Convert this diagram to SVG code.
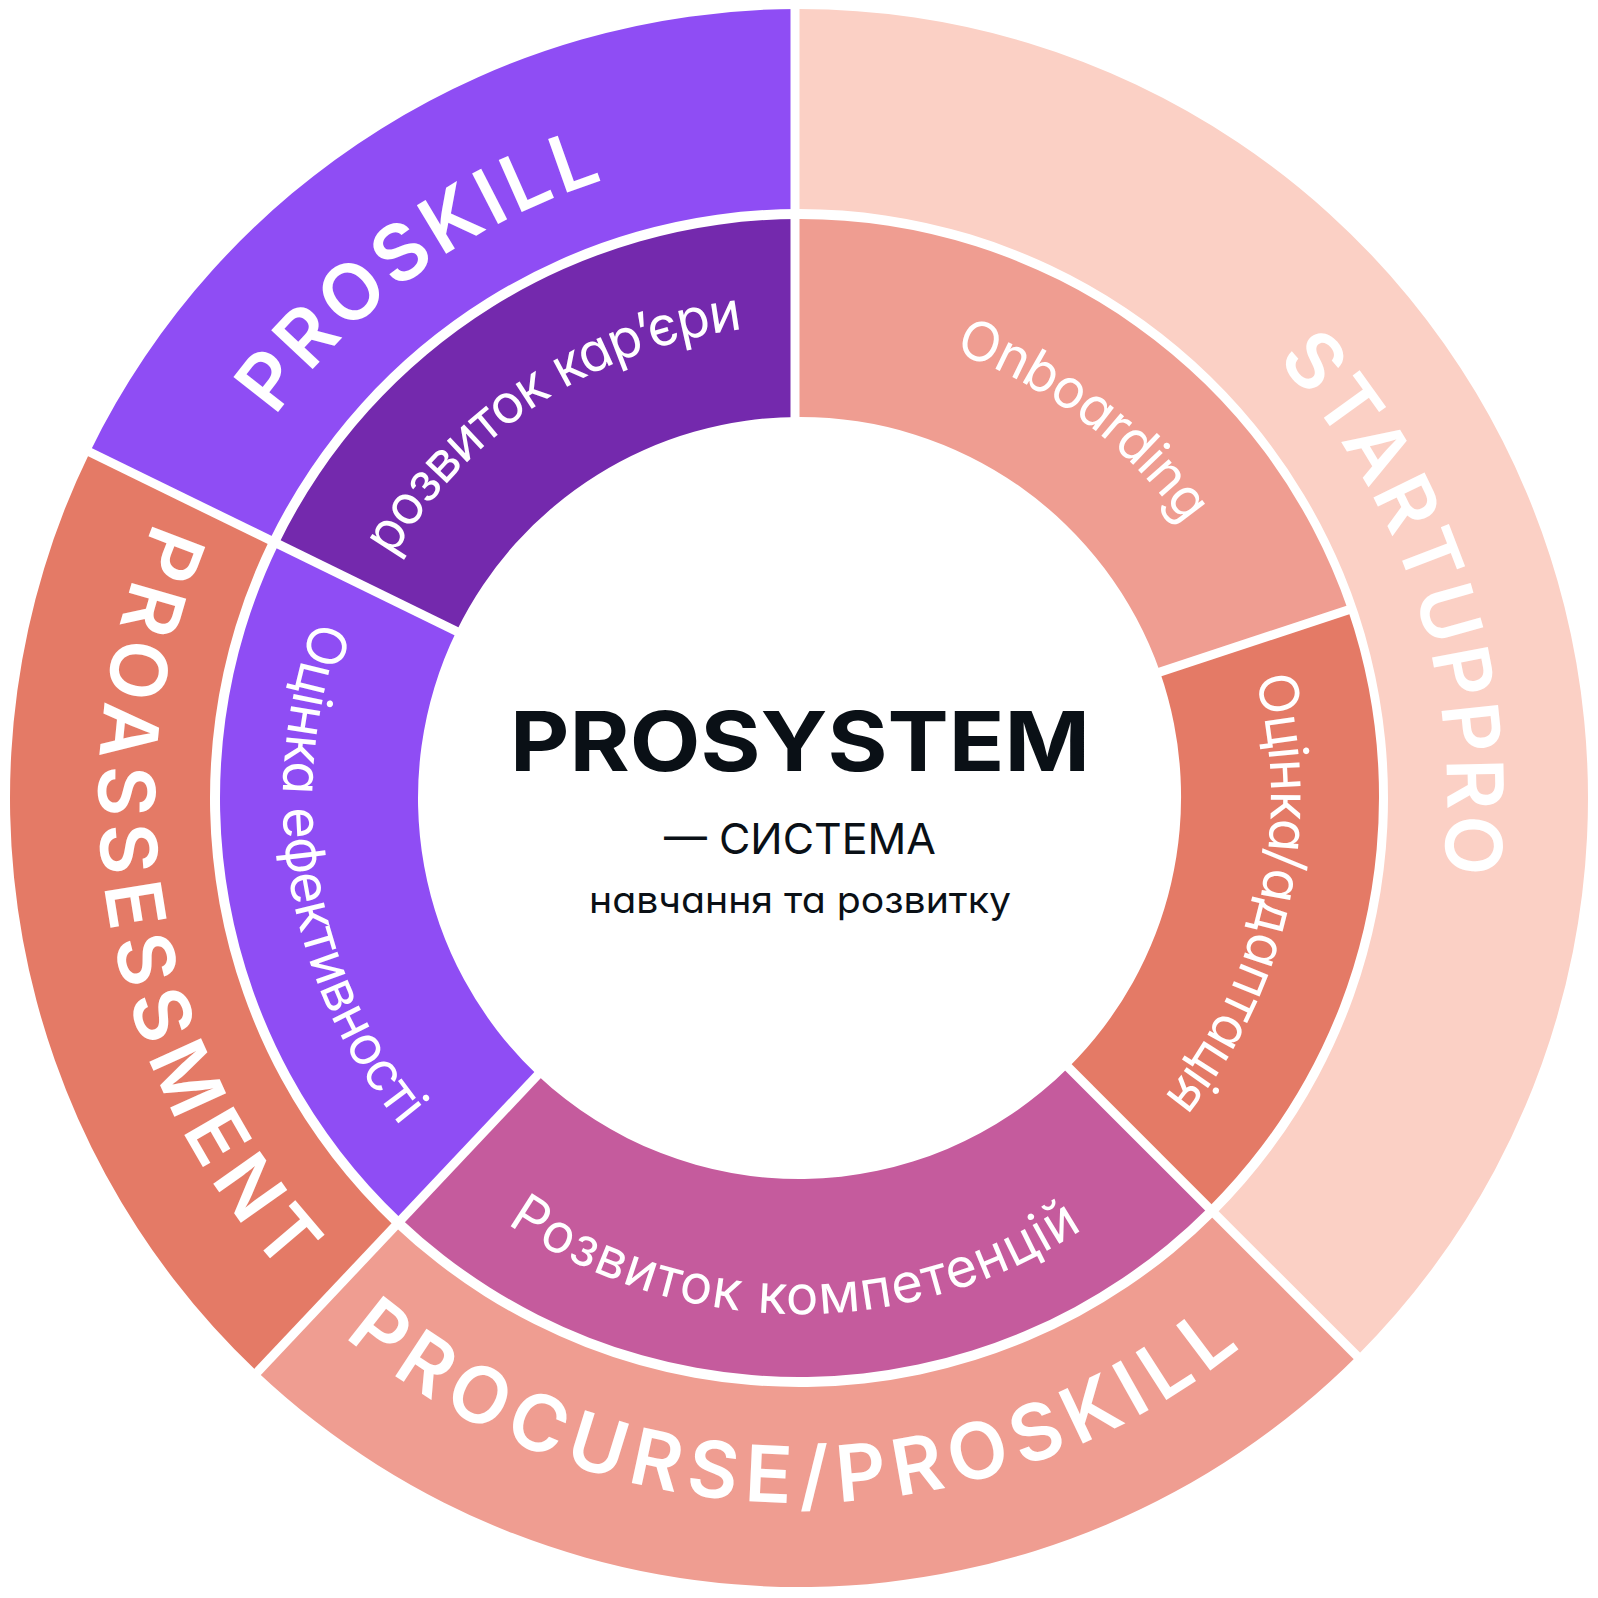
<svg xmlns="http://www.w3.org/2000/svg" width="1598" height="1598" viewBox="0 0 1598 1598">
  <style>
    .outer { font-family: Inter, "Noto Sans", "Liberation Sans", sans-serif; font-size: 78px; font-weight: 600; fill: #ffffff; }
    .mid { font-family: Inter, "Noto Sans", "Liberation Sans", sans-serif; font-size: 54px; font-weight: 400; fill: #ffffff; font-feature-settings: "cv11"; }
    .center { font-family: Inter, "Noto Sans", "Liberation Sans", sans-serif; fill: #0A1016; text-anchor: middle; font-feature-settings: "cv11"; }
    .div { stroke: #ffffff; stroke-width: 9; fill: none; }
  </style>
  <defs>
    <path id="p-proskill" d="M 215.6 1080.0 A 648 648 0 0 1 1251.2 333.8"/>
    <path id="p-startup" d="M 709.4 156.2 A 648 648 0 0 1 1102.6 1370.5"/>
    <path id="p-proassess" d="M 679.6 103.2 A 705 705 0 0 0 918.4 1492.8"/>
    <path id="p-procurse" d="M 96.0 850.9 A 705 705 0 0 0 1500.5 868.0"/>
    <path id="p-career" d="M 364.8 983.2 A 472 472 0 0 1 1143.8 475.7"/>
    <path id="p-onboard" d="M 476.6 453.3 A 472 472 0 0 1 1219.7 1011.9"/>
    <path id="p-adapt" d="M 978.1 361.3 A 472 472 0 0 1 780.1 1269.6"/>
    <path id="p-comp" d="M 290.0 882.7 A 516 516 0 0 0 1306.3 892.5"/>
    <path id="p-eff" d="M 625.1 312.2 A 516 516 0 0 0 796.3 1314.0"/>
  </defs>
  <rect width="1598" height="1598" fill="#ffffff"/>

  <g id="node-proskill">
    <path d="M 89.85 452.13 A 789 789 0 0 1 799 9 L 799 209 A 589 589 0 0 0 269.61 539.80 Z" fill="#8F4DF4"/>
    <text class="outer"><textPath href="#p-proskill" startOffset="50%" text-anchor="middle" textLength="412" lengthAdjust="spacing">PROSKILL</textPath></text>
  </g>
  <g id="node-startuppro">
    <path d="M 799 9 A 789 789 0 0 1 1356.91 1355.91 L 1215.49 1214.49 A 589 589 0 0 0 799 209 Z" fill="#FBD0C5"/>
    <text class="outer"><textPath href="#p-startup" startOffset="50%" text-anchor="middle" textLength="557" lengthAdjust="spacing">STARTUPPRO</textPath></text>
  </g>
  <g id="node-procurse">
    <path d="M 1356.91 1355.91 A 789 789 0 0 1 257.56 1371.90 L 394.80 1226.42 A 589 589 0 0 0 1215.49 1214.49 Z" fill="#EF9D91"/>
    <text class="outer"><textPath href="#p-procurse" startOffset="50%" text-anchor="middle" textLength="972" lengthAdjust="spacing">PROCURSE/PROSKILL</textPath></text>
  </g>
  <g id="node-proassessment">
    <path d="M 257.56 1371.90 A 789 789 0 0 1 89.85 452.13 L 269.61 539.80 A 589 589 0 0 0 394.80 1226.42 Z" fill="#E47A66"/>
    <text class="outer"><textPath href="#p-proassess" startOffset="50%" text-anchor="middle" textLength="806" lengthAdjust="spacing">PROASSESSMENT</textPath></text>
  </g>

  <g id="node-career">
    <path d="M 278.60 544.18 A 579 579 0 0 1 799 219 L 799 417 A 381 381 0 0 0 456.56 630.98 Z" fill="#7429AD"/>
    <text class="mid"><textPath href="#p-career" startOffset="50%" text-anchor="middle" textLength="433" lengthAdjust="spacing">розвиток кар’єри</textPath></text>
  </g>
  <g id="node-onboarding">
    <path d="M 799 219 A 579 579 0 0 1 1348 610 L 1160 672 A 381 381 0 0 0 799 417 Z" fill="#EF9D91"/>
    <text class="mid"><textPath href="#p-onboard" startOffset="50%" text-anchor="middle" textLength="292" lengthAdjust="spacing">Onboarding</textPath></text>
  </g>
  <g id="node-adaptation">
    <path d="M 1348 610 A 579 579 0 0 1 1208.41 1207.41 L 1068.41 1067.41 A 381 381 0 0 0 1160 672 Z" fill="#E47A66"/>
    <text class="mid"><textPath href="#p-adapt" startOffset="50%" text-anchor="middle" textLength="446" lengthAdjust="spacing">Оцінка/адаптація</textPath></text>
  </g>
  <g id="node-competencies">
    <path d="M 1208.41 1207.41 A 579 579 0 0 1 401.67 1219.15 L 537.54 1075.13 A 381 381 0 0 0 1068.41 1067.41 Z" fill="#C55B9D"/>
    <text class="mid"><textPath href="#p-comp" startOffset="50%" text-anchor="middle" textLength="611" lengthAdjust="spacing">Розвиток компетенцій</textPath></text>
  </g>
  <g id="node-efficiency">
    <path d="M 401.67 1219.15 A 579 579 0 0 1 278.60 544.18 L 456.56 630.98 A 381 381 0 0 0 537.54 1075.13 Z" fill="#8F4DF4"/>
    <text class="mid"><textPath href="#p-eff" startOffset="50%" text-anchor="middle" textLength="537" lengthAdjust="spacing">Оцінка ефективності</textPath></text>
  </g>

  <g id="connectors">
    <path class="div" d="M 795 0 L 795 425"/>
    <path class="div" d="M 84.5 449.5 L 462 634"/>
    <path class="div" d="M 1064 1063 L 1362 1361"/>
    <path class="div" d="M 541.66 1070.76 L 250 1379.9"/>
    <path class="div" d="M 1157 673 L 1351 609"/>
  </g>

  <g id="node-center">
    <text class="center" x="800" y="771" font-size="83" font-weight="700" textLength="580" lengthAdjust="spacingAndGlyphs">PROSYSTEM</text>
    <text class="center" x="800" y="854" font-size="43" font-weight="400" textLength="272" lengthAdjust="spacingAndGlyphs">— СИСТЕМА</text>
    <text class="center" x="800" y="913" font-size="37" font-weight="400" textLength="422" lengthAdjust="spacingAndGlyphs">навчання та розвитку</text>
  </g>
</svg>
